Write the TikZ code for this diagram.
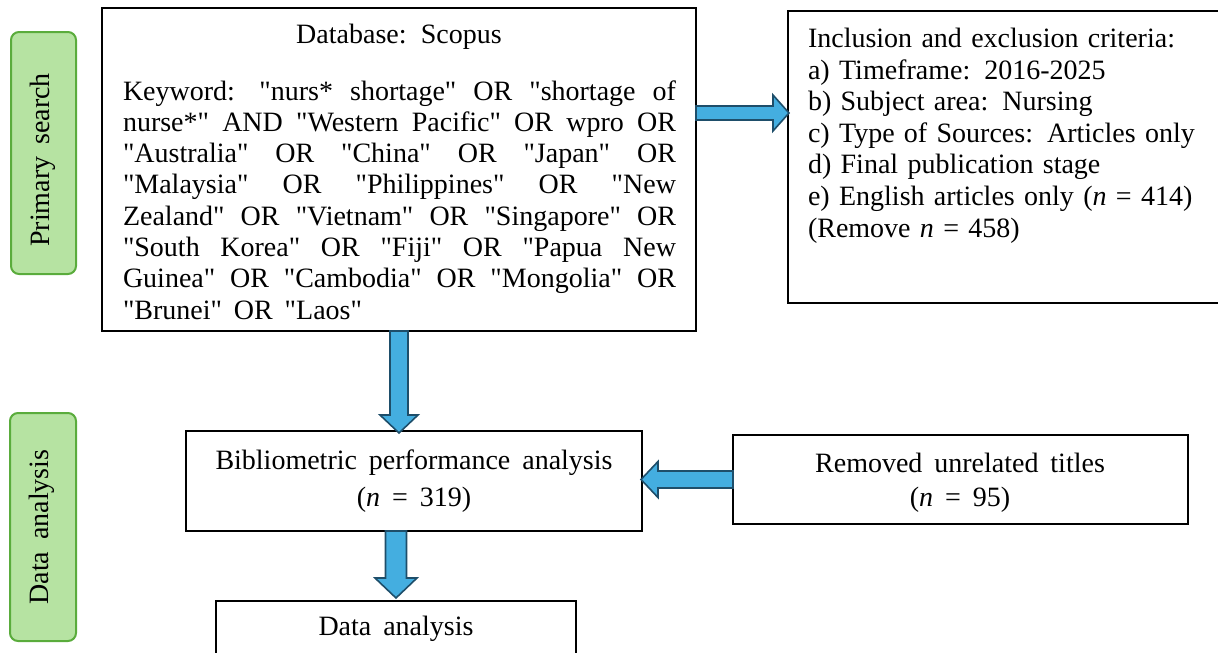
\documentclass[tikz,border=0pt]{standalone}
\usepackage{fontspec}
\setmainfont{Liberation Serif}[WordSpace={1.7,2,1}]
\usetikzlibrary{calc}
\definecolor{arrowfill}{RGB}{68,174,224}
\definecolor{arrowline}{RGB}{30,78,106}
\definecolor{greenfill}{RGB}{182,227,162}
\definecolor{greenline}{RGB}{90,172,60}
\hbadness=10000
\newcommand\qq{\textquotedbl}
\tikzset{
  box/.style={draw=black, line width=1.8pt, inner sep=0pt, outer sep=0pt, anchor=north west},
  phase/.style={draw=greenline, fill=greenfill, line width=2pt, rounded corners=8pt, inner sep=0pt, outer sep=0pt, anchor=north west},
  barrow/.style={draw=arrowline, fill=arrowfill, line width=1.6pt, line join=miter},
  txt/.style={inner sep=0pt, outer sep=0pt},
}
\newcommand\flowarrow[5]{%
  \path ($(#2)!#5!(#1)$) coordinate (bahead);
  \draw[barrow] ($(#1)!#3!90:(#2)$) -- ($(bahead)!#3!90:(#2)$) -- ($(bahead)!#4!90:(#2)$) -- (#2)
     -- ($(bahead)!#4!-90:(#2)$) -- ($(bahead)!#3!-90:(#2)$) -- ($(#1)!#3!-90:(#2)$) -- cycle;
}
\begin{document}
\begin{tikzpicture}[x=1pt,y=-1pt,font=\fontsize{28}{31.3}\selectfont]
\useasboundingbox (0,0) rectangle (1218,653);
\clip (0,0) rectangle (1218,653);

% phase labels
\node[phase, minimum width=65pt, minimum height=242pt] (ps) at (11,32) {};
\node[txt, rotate=90] (pst) at (43,160) {Primary search};
\node[phase, minimum width=66pt, minimum height=228pt] (dag) at (10,413) {};
\node[txt, rotate=90] (dagt) at (42,527) {Data analysis};

% boxes
\node[box, line width=2pt, minimum width=594pt, minimum height=323pt] (db) at (102,8) {};
\node[box, line width=2pt, minimum width=440pt, minimum height=292pt] (inc) at (788,11) {};
\node[box, minimum width=456pt, minimum height=100pt] (bib) at (186,431) {};
\node[box, minimum width=455pt, minimum height=89pt] (rem) at (733,435) {};
\node[box, minimum width=360pt, minimum height=80pt] (da) at (216,601) {};

% texts
\node[txt] (dbt) at (399,37) {Database: Scopus};
\node[txt, text width=553pt, align=justify, anchor=base west] (kw) at (123,100) {%
Keyword: \qq{}nurs* shortage\qq{} OR \qq{}shortage of\linebreak
nurse*\qq{} AND \qq{}Western Pacific\qq{} OR wpro OR\linebreak
\qq{}Australia\qq{} OR \qq{}China\qq{} OR \qq{}Japan\qq{} OR\linebreak
\qq{}Malaysia\qq{} OR \qq{}Philippines\qq{} OR \qq{}New\linebreak
Zealand\qq{} OR \qq{}Vietnam\qq{} OR \qq{}Singapore\qq{} OR\linebreak
\qq{}South Korea\qq{} OR \qq{}Fiji\qq{} OR \qq{}Papua New\linebreak
Guinea\qq{} OR \qq{}Cambodia\qq{} OR \qq{}Mongolia\qq{} OR\linebreak
\qq{}Brunei\qq{} OR \qq{}Laos\qq{}};
\node[txt, text width=400pt, align=left, anchor=base west, font=\fontsize{28}{31.6}\selectfont] (inct) at (808,47.5) {%
Inclusion and exclusion criteria:\\
a) Timeframe: 2016-2025\\
b) Subject area: Nursing\\
c) Type of Sources: Articles only\\
d) Final publication stage\\
e) English articles only (\textit{n} = 414)\\
(Remove \textit{n} = 458)};
\node[txt, align=center] (bibt) at (414,481) {Bibliometric performance analysis\\[5pt](\textit{n} = 319)};
\node[txt, align=center] (remt) at (960,483) {Removed unrelated titles\\[3pt](\textit{n} = 95)};
\node[txt] (dat) at (396,629) {Data analysis};

% connectors
\coordinate (a1s) at (db.south);
\coordinate (a1e) at ($(db.south |- bib.north)+(0,2)$);
\flowarrow{a1s}{a1e}{9pt}{19pt}{18pt}
\coordinate (a2s) at (bib.south -| da.north);
\coordinate (a2e) at ($(da.north)+(0,-3)$);
\flowarrow{a2s}{a2e}{10.5pt}{21pt}{20pt}
\coordinate (a3s) at (db.east |- 0,113);
\coordinate (a3e) at ($(inc.west |- a3s)+(1,0)$);
\flowarrow{a3s}{a3e}{7pt}{18pt}{16pt}
\coordinate (a4s) at (rem.west);
\coordinate (a4e) at ($(bib.east |- rem.west)+(-1,0)$);
\flowarrow{a4s}{a4e}{8.5pt}{18pt}{17pt}
\end{tikzpicture}
\end{document}
